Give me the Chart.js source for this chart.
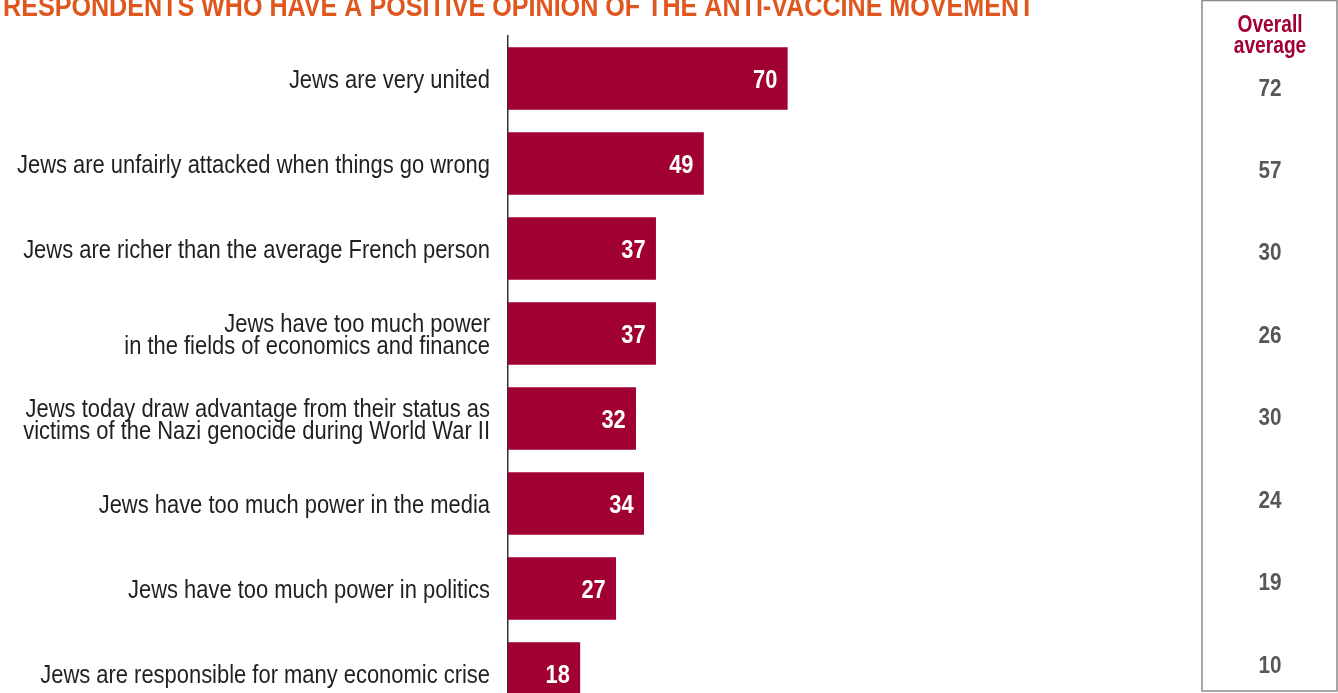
<!DOCTYPE html>
<html>
<head>
<meta charset="utf-8">
<script src="https://cdn.jsdelivr.net/npm/chart.js@4"></script>
<style>
  html, body { margin: 0; padding: 0; background: #fff; overflow: hidden; }
</style>
</head>
<body>
<canvas id="opinionChart" width="1338" height="720"></canvas>
<script>
const titleText = "RESPONDENTS WHO HAVE A POSITIVE OPINION OF THE ANTI-VACCINE MOVEMENT";

const statements = [
    "Jews are very united",
    "Jews are unfairly attacked when things go wrong",
    "Jews are richer than the average French person",
    ["Jews have too much power", "in the fields of economics and finance"],
    ["Jews today draw advantage from their status as", "victims of the Nazi genocide during World War II"],
    "Jews have too much power in the media",
    "Jews have too much power in politics",
    "Jews are responsible for many economic crise"
];

// anti-vaccine sympathisers, %
const antiVaxValues = [70, 49, 37, 37, 32, 34, 27, 18];
// whole sample, %
const overallValues = [72, 57, 30, 26, 30, 24, 19, 10];
const overallHeader = ["Overall", "average"];

const RED = "#A00032";
const FONT = "'Liberation Sans', Arial, sans-serif";

// no condensed face installed, so squeeze the regular one horizontally
function squeezedText(ctx, text, x, y, sx) {
    ctx.save();
    ctx.translate(x, y);
    ctx.scale(sx, 1);
    ctx.fillText(text, 0, 0);
    ctx.restore();
}

// title, category labels, value tags and the "overall average" column
const extras = {
    id: "extras",
    afterDatasetsDraw(chart) {
        const ctx = chart.ctx;
        const meta = chart.getDatasetMeta(0);
        const yScale = chart.scales.y;

        ctx.save();
        ctx.textBaseline = "alphabetic";

        // category labels
        ctx.fillStyle = "#231F20";
        ctx.font = "25.5px " + FONT;
        ctx.textAlign = "right";
        const lineGap = 22;
        statements.forEach((label, i) => {
            const lines = Array.isArray(label) ? label : [label];
            const cy = yScale.getPixelForValue(i);
            lines.forEach((line, k) => {
                const y = cy + 9 + (k - (lines.length - 1) / 2) * lineGap;
                squeezedText(ctx, line, 490, y, 0.86);
            });
        });

        // values at the end of each bar
        ctx.fillStyle = "#fff";
        ctx.font = "bold 26px " + FONT;
        meta.data.forEach((bar, i) => {
            squeezedText(ctx, String(antiVaxValues[i]), bar.x - 10, bar.y + 9, 0.84);
        });

        // title
        ctx.fillStyle = "#DF561F";
        ctx.font = "bold 30px " + FONT;
        ctx.textAlign = "left";
        squeezedText(ctx, titleText, 3, 16, 0.837);

        // overall average box
        ctx.strokeStyle = "#8a8a8a";
        ctx.lineWidth = 1.5;
        ctx.strokeRect(1202, 0.5, 135, 690.5);

        const cx = 1270;
        ctx.textAlign = "center";
        ctx.fillStyle = RED;
        ctx.font = "bold 24px " + FONT;
        squeezedText(ctx, overallHeader[0], cx, 32, 0.8);
        squeezedText(ctx, overallHeader[1], cx, 53, 0.8);

        ctx.fillStyle = "#575757";
        ctx.font = "bold 23px " + FONT;
        overallValues.forEach((v, i) => {
            const rowY = yScale.getPixelForValue(i);
            const y = 11.4 + rowY * 0.97;
            squeezedText(ctx, String(v), cx, y + 8, 0.9);
        });
        ctx.restore();
    }
};

new Chart("opinionChart", {
    type: "bar",
    data: {
        labels: statements,
        datasets: [{
            data: antiVaxValues,
            backgroundColor: RED,
            borderWidth: 0,
            barThickness: 62
        }]
    },
    options: {
        indexAxis: "y",
        responsive: false,
        animation: false,
        layout: {
            padding: {top: 36, right: 431, bottom: 4, left: 0}
        },
        plugins: {
            legend: {display: false},
            tooltip: {enabled: false}
        },
        scales: {
            x: {
                display: false,
                min: 0,
                max: 100
            },
            y: {
                afterFit(scale) {
                    scale.width = 508;
                },
                grid: {display: false},
                border: {display: true, color: "#333", width: 1.5},
                ticks: {display: false}
            }
        }
    },
    plugins: [extras]
});
</script>
</body>
</html>
